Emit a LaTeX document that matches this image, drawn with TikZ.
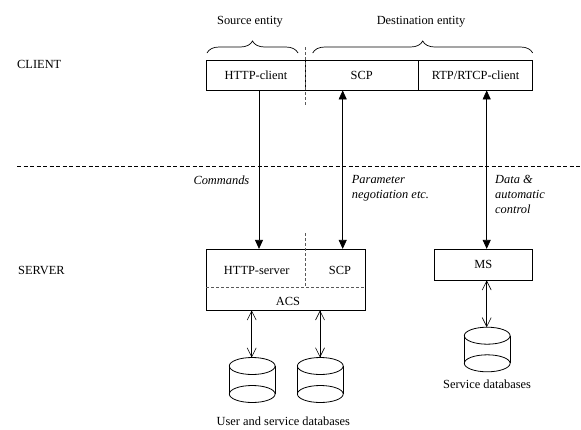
\documentclass[tikz,border=0pt]{standalone}
\usepackage{fontspec}
\setmainfont{Liberation Serif}
\usetikzlibrary{arrows.meta,decorations.pathreplacing}
\begin{document}
\begin{tikzpicture}[x=1pt,y=-1pt,
  font=\fontsize{12.4}{15}\selectfont,
  box/.style={draw,line width=0.8pt,inner sep=0pt,minimum height=30pt},
  lbl/.style={inner sep=0pt,anchor=base},
  ilbl/.style={inner sep=0pt,anchor=north west,font=\fontsize{12.4}{15}\selectfont\itshape,align=left},
  fat/.style={line width=0.8pt,-{Triangle[length=9pt,width=8pt]}},
  fatboth/.style={line width=0.8pt,{Triangle[length=9pt,width=8pt]}-{Triangle[length=9pt,width=8pt]}},
  thinboth/.style={line width=0.6pt,{Straight Barb[length=9pt,width=9pt]}-{Straight Barb[length=9pt,width=9pt]}},
  sep/.style={dash pattern=on 4pt off 2.5pt,line width=0.7pt},
  inner/.style={dash pattern=on 3pt off 2pt,line width=0.7pt,gray!70!black},
  brc/.style={decorate,decoration={brace,amplitude=12pt},line width=0.7pt}
]
\useasboundingbox (0,0) rectangle (581,429);

% labels
\node[lbl,anchor=base west] (client) at (17,68) {CLIENT};
\node[lbl,anchor=base west] (server) at (18,274) {SERVER};

% client boxes
\node[box,minimum width=98.3pt] (hc) at (256,75) {HTTP-client};
\node[box,minimum width=113.3pt] (scpc) at (361.65,75) {SCP};
\node[box,minimum width=114.4pt] (rtp) at (475.5,75) {RTP/RTCP-client};

% braces
\draw[brc] (207,53) -- (298,53);
\draw[brc] (312.7,53) -- (532.7,53);
\node[lbl] (src) at (250,24) {Source entity};
\node[lbl] (dst) at (421,24) {Destination entity};

% separator
\coordinate (sl) at (17,166.7);
\coordinate (sr) at (581,166.7);
\draw[sep] (sl) -- (sr);

% server boxes
\node[draw,line width=0.8pt,minimum width=159pt,minimum height=60.7pt,inner sep=0pt] (srv) at (286.2,279.65) {};
\node[lbl] (hs) at (256.7,274) {HTTP-server};
\node[lbl] (scps) at (340,274) {SCP};
\node[lbl] (acs) at (288,305) {ACS};
\draw[inner] (srv.west |- 0,287.7) -- (srv.east |- 0,287.7);
\node[box,minimum width=98.7pt,minimum height=30.7pt] (ms) at (483.35,264.65) {MS};

% vertical dashed
\draw[inner] (305,47) -- (305,105);
\draw[inner] (305,233) -- (305,287.7);

% main arrows
\draw[fat] (hc.south -| 259,0) -- (srv.north -| 259,0);
\draw[fatboth] (scpc.south -| 342.7,0) -- (srv.north -| 342.7,0);
\draw[fatboth] (rtp.south -| 486.7,0) -- (ms.north -| 486.7,0);

% arrow labels
\node[ilbl] (cmd) at (193.3,175.3) {Commands};
\node[ilbl] (par) at (351.7,175.3) {Parameter\\negotiation etc.};
\node[ilbl] (dat) at (495,175.3) {Data \&\\automatic\\control};

% cylinders
\foreach \n/\cx/\ty/\by in {db1/252.2/366/394, db2/320.3/366/394, db3/487.2/335.7/363.3}{
  \draw[line width=0.8pt] (\cx-22.9,\ty) -- (\cx-22.9,\by) (\cx+22.9,\ty) -- (\cx+22.9,\by);
  \draw[line width=0.8pt] (\cx,\ty) ellipse [x radius=22.9pt,y radius=8.5pt];
  \draw[line width=0.8pt] (\cx,\by) ellipse [x radius=22.9pt,y radius=8.5pt];
  \coordinate (\n) at (\cx,\ty-8.5);
}
\draw[thinboth] (srv.south -| 251.7,0) -- (db1 -| 251.7,0);
\draw[thinboth] (srv.south -| 320,0) -- (db2 -| 320,0);
\draw[thinboth] (ms.south -| 486.7,0) -- (db3 -| 486.7,0);

\node[lbl] (udb) at (283.3,425.5) {User and service databases};
\node[lbl] (sdb) at (487,388) {Service databases};
\end{tikzpicture}
\end{document}
